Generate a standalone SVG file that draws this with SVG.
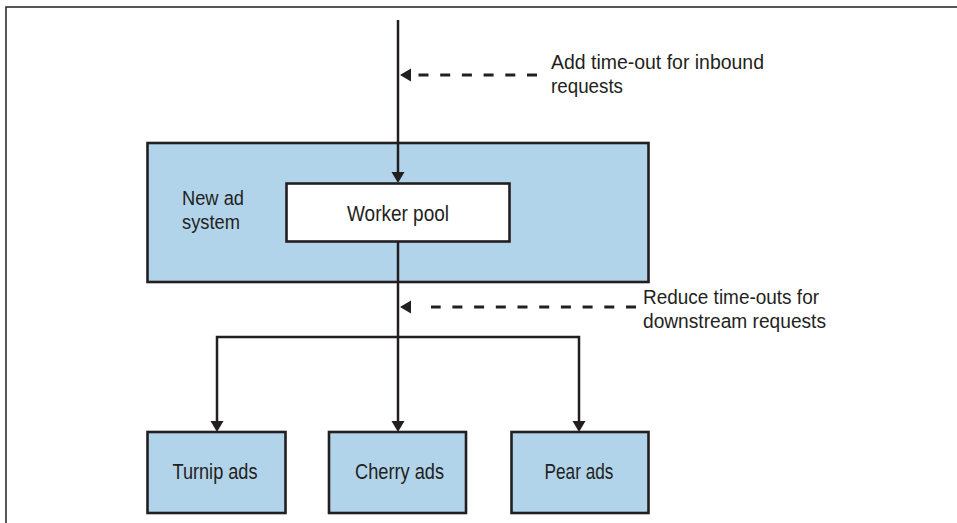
<svg xmlns="http://www.w3.org/2000/svg" xmlns:xlink="http://www.w3.org/1999/xlink" width="957" height="523" viewBox="0 0 957 523">
  <style>
    .frame { fill: none; stroke: #231f20; stroke-width: 1.5; }
    .box { fill: #b2d4ea; stroke: #231f20; stroke-width: 2.6; }
    .wbox { fill: #ffffff; stroke: #231f20; stroke-width: 2.6; }
    .line { fill: none; stroke: #231f20; stroke-width: 2.5; stroke-linejoin: miter; }
    .dash { fill: none; stroke: #231f20; stroke-width: 3; stroke-dasharray: 10 11.7; }
    .ah { fill: #231f20; }
    text { font-family: "Liberation Sans", Arial, sans-serif; font-size: 22px; fill: #231f20; }
    text.m { font-size: 20.5px; }
    .c { text-anchor: middle; }
  </style>
  <defs>
    <marker id="arr" markerUnits="userSpaceOnUse" markerWidth="14" markerHeight="14" refX="0" refY="6.5" orient="auto" viewBox="0 0 14 14">
      <path d="M0,0 L11,6.5 L0,13 z" fill="#231f20"/>
    </marker>
    <path id="ahL" d="M0,0 L11,-6.5 L11,6.5 z"/>
  </defs>

  <g id="frame">
    <path class="frame" d="M6,523 V7 H957"/>
  </g>

  <g id="new-ad-system">
    <rect class="box" x="147.5" y="143" width="501" height="139"/>
    <text class="m" x="182" y="205" textLength="62" lengthAdjust="spacingAndGlyphs">New ad</text>
    <text class="m" x="182" y="229" textLength="58" lengthAdjust="spacingAndGlyphs">system</text>
  </g>

  <g id="worker-pool">
    <rect class="wbox" x="286.5" y="183.5" width="223" height="58"/>
    <text class="c" x="398" y="221" textLength="102" lengthAdjust="spacingAndGlyphs">Worker pool</text>
  </g>

  <g id="turnip-ads">
    <rect class="box" x="147.5" y="432" width="138" height="81"/>
    <text class="c" x="215" y="479" textLength="85" lengthAdjust="spacingAndGlyphs">Turnip ads</text>
  </g>

  <g id="cherry-ads">
    <rect class="box" x="329" y="432" width="137" height="81"/>
    <text class="c" x="399.5" y="479" textLength="89" lengthAdjust="spacingAndGlyphs">Cherry ads</text>
  </g>

  <g id="pear-ads">
    <rect class="box" x="511.5" y="432" width="137" height="81"/>
    <text class="c" x="579" y="479" textLength="69" lengthAdjust="spacingAndGlyphs">Pear ads</text>
  </g>

  <g id="connectors">
    <path class="line" d="M398,20 V172" marker-end="url(#arr)"/>
    <path class="line" d="M398,242 V421" marker-end="url(#arr)"/>
    <path class="line" d="M398,337 H217 V421" marker-end="url(#arr)"/>
    <path class="line" d="M398,337 H579 V421" marker-end="url(#arr)"/>
    <path class="dash" d="M537,75 H418"/>
    <use class="ah" xlink:href="#ahL" x="400" y="75"/>
    <path class="dash" d="M636,307 H431"/>
    <use class="ah" xlink:href="#ahL" x="400" y="307"/>
  </g>

  <g id="annotations">
    <text class="m" x="551" y="69" textLength="213" lengthAdjust="spacingAndGlyphs">Add time-out for inbound</text>
    <text class="m" x="551" y="93" textLength="72" lengthAdjust="spacingAndGlyphs">requests</text>
    <text class="m" x="643" y="304" textLength="176" lengthAdjust="spacingAndGlyphs">Reduce time-outs for</text>
    <text class="m" x="643" y="328" textLength="183" lengthAdjust="spacingAndGlyphs">downstream requests</text>
  </g>
</svg>
